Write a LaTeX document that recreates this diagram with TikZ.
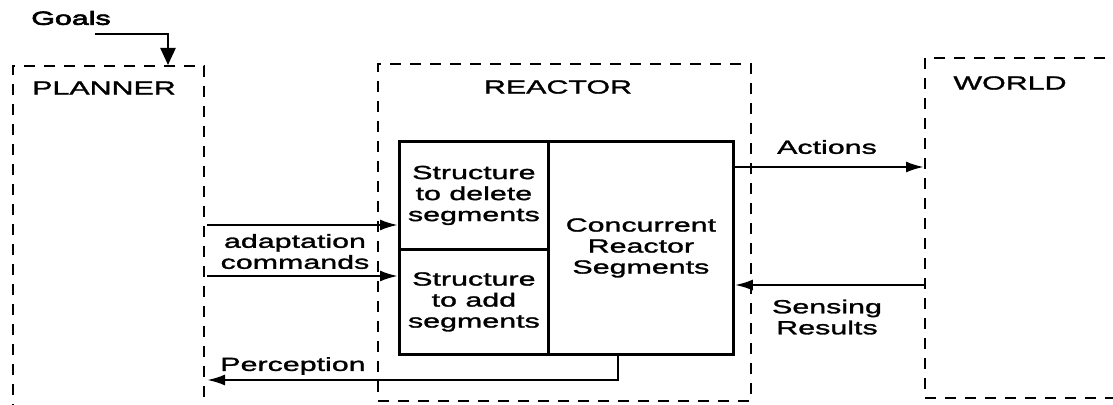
\documentclass[tikz,border=0pt]{standalone}
\usepackage{fontspec}
\setmainfont{Liberation Sans}[FakeStretch=1.6,FakeBold=1.5]
\usetikzlibrary{arrows.meta,calc}
\begin{document}
\begin{tikzpicture}[x=1pt,y=-1pt,
  dbox/.style={draw,dashed,dash pattern=on 11pt off 9pt,line width=2.4pt,inner sep=0pt},
  sbox/.style={draw,line width=2.8pt,inner sep=0pt,align=center,font=\fontsize{19}{21}\selectfont},
  lbl/.style={font=\fontsize{19}{21}\selectfont,align=center,inner sep=0pt},
  arr/.style={line width=2.4pt,-{Latex[length=18pt,width=11pt]}},
  garr/.style={line width=2.4pt,-{Triangle[length=17pt,width=15pt]}}]
\useasboundingbox (0,0) rectangle (1113,404);
\clip (0,0) rectangle (1113,404);
% dashed boxes
\node[dbox,minimum width=191pt,minimum height=380pt,anchor=north west] (planner) at (12,65) {};
\node[dbox,minimum width=373pt,minimum height=337pt,anchor=north west] (reactor) at (377,63) {};
\node[dbox,minimum width=230pt,minimum height=340pt,anchor=north west] (world) at (924,57) {};
% box titles
\node[lbl] (plannerT) at (104,88) {PLANNER};
\node[lbl] (reactorT) at (558,87) {REACTOR};
\node[lbl] (worldT) at (1010,83) {WORLD};
% inner boxes
\node[sbox,minimum width=149pt,minimum height=108pt,anchor=north west] (delete) at (398,140) {Structure\\to delete\\segments};
\node[sbox,minimum width=149pt,minimum height=105pt,anchor=north west] (add) at (398,248) {Structure\\to add\\segments};
\node[sbox,minimum width=185pt,minimum height=213pt,anchor=north west] (conc) at (547,140) {Concurrent\\Reactor\\Segments};
% goals
\node[lbl,font=\fontsize{19}{21}\selectfont\addfontfeatures{FakeBold=3.5}] (goals) at (71,18) {Goals};
\coordinate (g0) at (95,34);
\coordinate (g1) at (168,34);
\draw[garr] (g0) -- (g1) -- (g1 |- planner.north);
% adaptation commands
\coordinate (ad1) at (207,225);
\coordinate (ad2) at (207,276);
\draw[arr] (ad1) -- (ad1 -| delete.west);
\draw[arr] (ad2) -- (ad2 -| add.west);
\node[lbl] (adT) at (295,251.5) {adaptation\\commands};
% perception
\coordinate (pc) at (618,380);
\coordinate (pe) at (207,380);
\draw[arr] (pc |- conc.south) -- (pc) -- (pe);
\node[lbl] (pcT) at (293,366) {Perception};
% actions / sensing
\coordinate (ac) at (735,167);
\draw[arr] (ac -| conc.east) -- (ac -| world.west);
\node[lbl] (acT) at (827,147) {Actions};
\coordinate (sr) at (924,285);
\draw[arr] (sr -| world.west) -- (sr -| conc.east);
\node[lbl] (srT) at (827,317) {Sensing\\Results};
\end{tikzpicture}
\end{document}
